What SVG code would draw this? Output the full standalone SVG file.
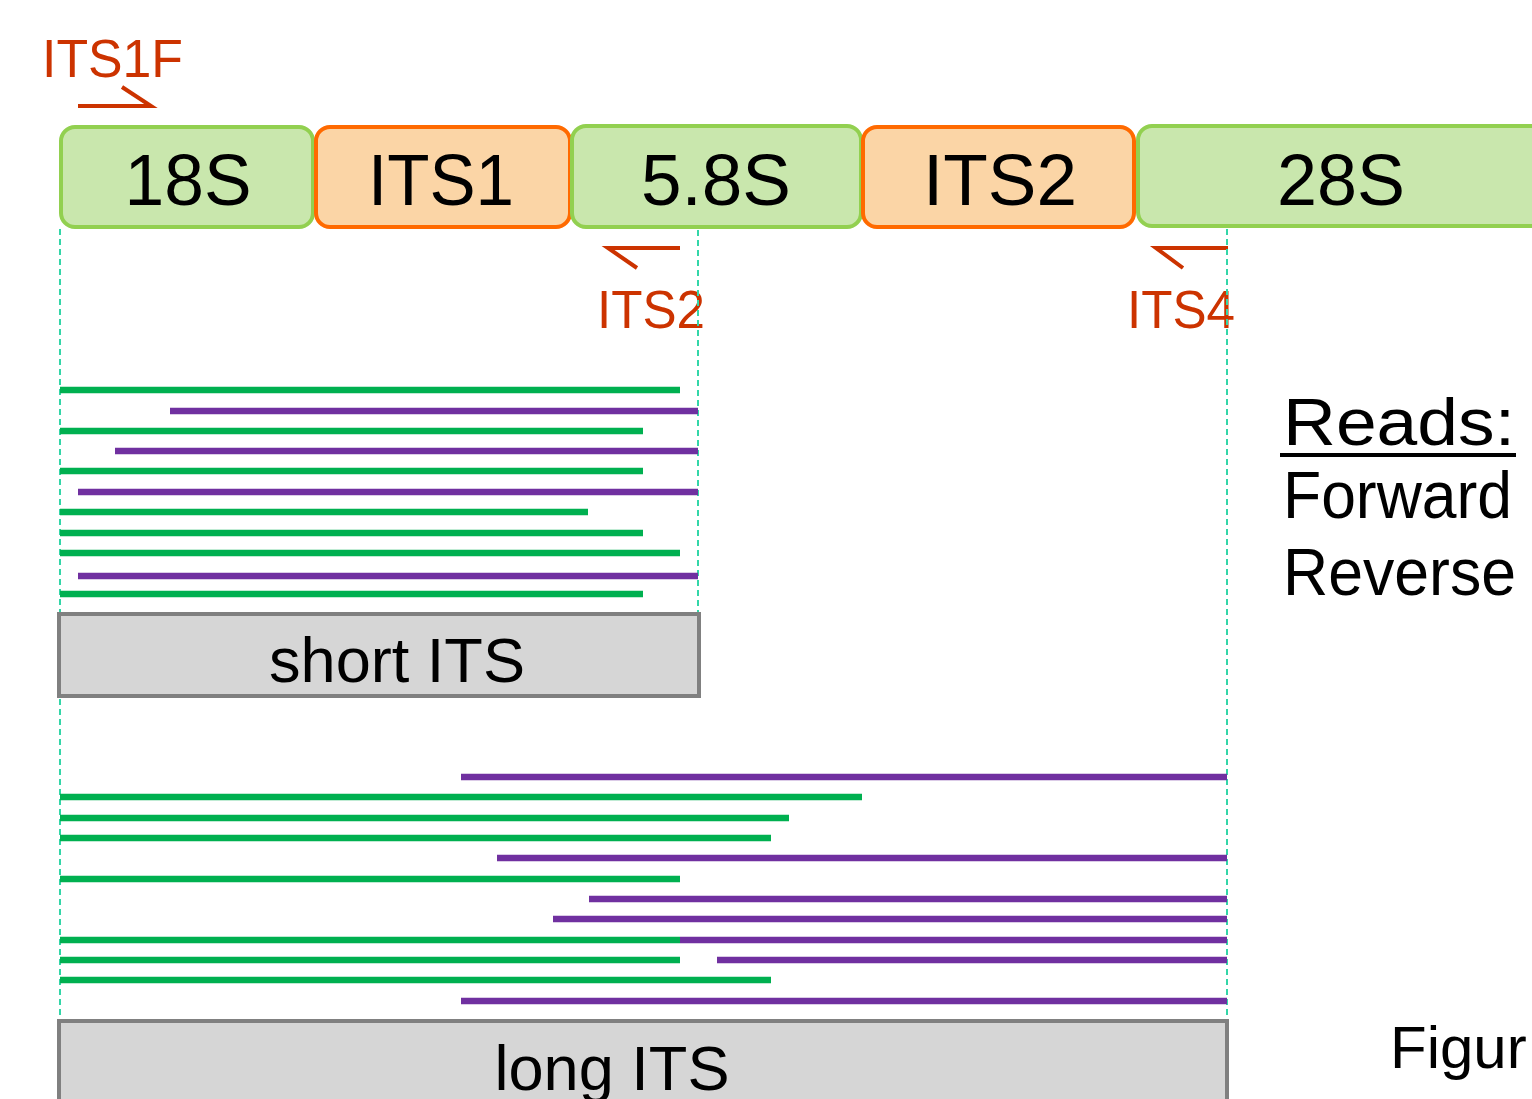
<svg xmlns="http://www.w3.org/2000/svg" width="1532" height="1099" viewBox="0 0 1532 1099">
  <style>
    text { font-family: "Liberation Sans", Arial, sans-serif; }
    .gene { fill: #C9E7AD; stroke: #92D050; stroke-width: 4; }
    .its { fill: #FBD5A6; stroke: #FF6A00; stroke-width: 4; }
    .lbl { font-size: 73px; fill: #000; text-anchor: middle; }
    .primer { fill: none; stroke: #CC3300; stroke-width: 4; }
    .ptxt { font-size: 54px; fill: #CC3300; }
    .guide { stroke: #33D6A8; stroke-width: 2; stroke-dasharray: 6 4; fill: none; }
    .fwd { stroke: #00B050; stroke-width: 6.5; }
    .rev { stroke: #7030A0; stroke-width: 6.5; }
    .bin { fill: #D6D6D6; stroke: #808080; stroke-width: 4; }
    .btxt { font-size: 63px; fill: #000; text-anchor: middle; }
    .leg { font-size: 66px; fill: #000; }
  </style>

  <!-- rRNA operon segments -->
  <g id="seg-18S"><rect class="gene" x="61" y="127" width="252" height="100" rx="14"/><text class="lbl" x="188" y="205" textLength="127" lengthAdjust="spacingAndGlyphs">18S</text></g>
  <g id="seg-ITS1"><rect class="its" x="316" y="127" width="254" height="100" rx="14"/><text class="lbl" x="441" y="205" textLength="146" lengthAdjust="spacingAndGlyphs">ITS1</text></g>
  <g id="seg-5.8S"><rect class="gene" x="572" y="126" width="289" height="101" rx="14"/><text class="lbl" x="716" y="205" textLength="150" lengthAdjust="spacingAndGlyphs">5.8S</text></g>
  <g id="seg-ITS2"><rect class="its" x="863" y="127" width="271" height="100" rx="14"/><text class="lbl" x="1000" y="205" textLength="154" lengthAdjust="spacingAndGlyphs">ITS2</text></g>
  <g id="seg-28S"><rect class="gene" x="1138" y="126" width="430" height="100" rx="14"/><text class="lbl" x="1341" y="205" textLength="128" lengthAdjust="spacingAndGlyphs">28S</text></g>

  <!-- primers -->
  <g id="primer-ITS1F">
    <text class="ptxt" x="42" y="77" textLength="141" lengthAdjust="spacingAndGlyphs">ITS1F</text>
    <path class="primer" d="M78 106 H151 L122 87"/>
  </g>
  <g id="primer-ITS2">
    <path class="primer" d="M680 248 H608 L637 268"/>
    <text class="ptxt" x="597" y="328" textLength="108" lengthAdjust="spacingAndGlyphs">ITS2</text>
  </g>
  <g id="primer-ITS4">
    <path class="primer" d="M1228 248 H1156 L1183 268"/>
    <text class="ptxt" x="1127" y="328" textLength="108" lengthAdjust="spacingAndGlyphs">ITS4</text>
  </g>

  <!-- guide lines -->
  <g id="connectors">
    <line class="guide" x1="60" y1="229" x2="60" y2="1099"/>
    <line class="guide" x1="698" y1="230" x2="698" y2="612"/>
    <line class="guide" x1="1227" y1="229" x2="1227" y2="1099"/>
  </g>

  <!-- reads: short amplicon -->
  <g id="reads-short">
    <line class="fwd" x1="60" y1="390" x2="680" y2="390"/>
    <line class="rev" x1="170" y1="411" x2="698" y2="411"/>
    <line class="fwd" x1="60" y1="431" x2="643" y2="431"/>
    <line class="rev" x1="115" y1="451" x2="698" y2="451"/>
    <line class="fwd" x1="60" y1="471" x2="643" y2="471"/>
    <line class="rev" x1="78" y1="492" x2="698" y2="492"/>
    <line class="fwd" x1="60" y1="512" x2="588" y2="512"/>
    <line class="fwd" x1="60" y1="533" x2="643" y2="533"/>
    <line class="fwd" x1="60" y1="553" x2="680" y2="553"/>
    <line class="rev" x1="78" y1="576" x2="698" y2="576"/>
    <line class="fwd" x1="60" y1="594" x2="643" y2="594"/>
  </g>
  <g id="bin-short"><rect class="bin" x="59" y="614" width="640" height="82"/><text class="btxt" x="397" y="682" textLength="256" lengthAdjust="spacingAndGlyphs">short ITS</text></g>

  <!-- reads: long amplicon -->
  <g id="reads-long">
    <line class="rev" x1="461" y1="777" x2="1227" y2="777"/>
    <line class="fwd" x1="60" y1="797" x2="862" y2="797"/>
    <line class="fwd" x1="60" y1="818" x2="789" y2="818"/>
    <line class="fwd" x1="60" y1="838" x2="771" y2="838"/>
    <line class="rev" x1="497" y1="858" x2="1227" y2="858"/>
    <line class="fwd" x1="60" y1="879" x2="680" y2="879"/>
    <line class="rev" x1="589" y1="899" x2="1227" y2="899"/>
    <line class="rev" x1="553" y1="919" x2="1227" y2="919"/>
    <line class="fwd" x1="60" y1="940" x2="680" y2="940"/>
    <line class="rev" x1="680" y1="940" x2="1227" y2="940"/>
    <line class="fwd" x1="60" y1="960" x2="680" y2="960"/>
    <line class="rev" x1="717" y1="960" x2="1227" y2="960"/>
    <line class="fwd" x1="60" y1="980" x2="771" y2="980"/>
    <line class="rev" x1="461" y1="1001" x2="1227" y2="1001"/>
  </g>
  <g id="bin-long"><rect class="bin" x="59" y="1021" width="1168" height="120"/><text class="btxt" x="612" y="1090" textLength="235" lengthAdjust="spacingAndGlyphs">long ITS</text></g>

  <!-- legend -->
  <g id="legend">
    <text class="leg" x="1283" y="445" font-size="73" textLength="232" lengthAdjust="spacingAndGlyphs">Reads:</text>
    <line x1="1280" y1="455" x2="1516" y2="455" stroke="#000" stroke-width="4"/>
    <text class="leg" x="1283" y="518" textLength="229" lengthAdjust="spacingAndGlyphs">Forward</text>
    <text class="leg" x="1283" y="595" textLength="233" lengthAdjust="spacingAndGlyphs">Reverse</text>
  </g>

  <text x="1390" y="1068" font-size="60" fill="#000">Figur</text>
</svg>
